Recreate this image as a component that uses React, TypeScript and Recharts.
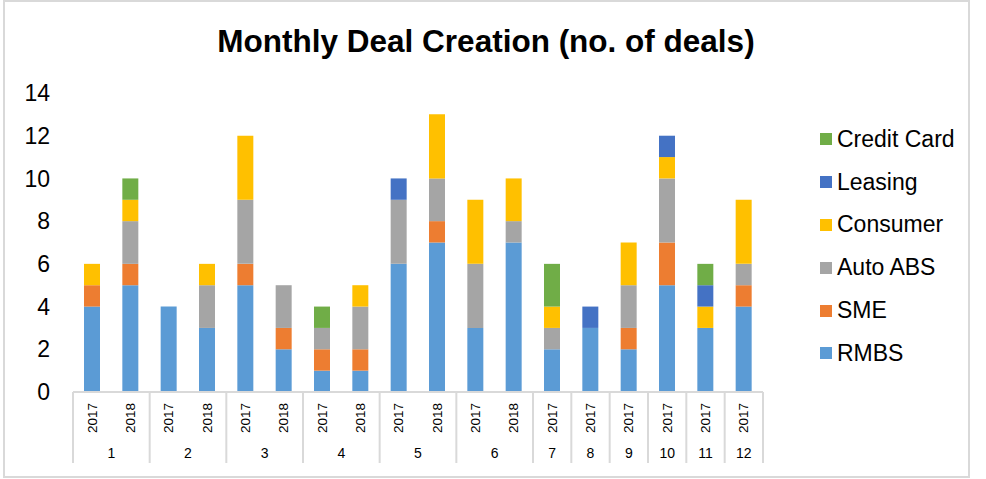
import React from 'react';
import { BarChart, Bar, XAxis, YAxis, Legend } from 'recharts';

const months = ['1', '1', '2', '2', '3', '3', '4', '4', '5', '5', '6', '6', '7', '8', '9', '10', '11', '12'];
const years = ['2017', '2018', '2017', '2018', '2017', '2018', '2017', '2018', '2017', '2018', '2017', '2018', '2017', '2017', '2017', '2017', '2017', '2017'];
const rmbs = [4, 5, 4, 3, 5, 2, 1, 1, 6, 7, 3, 7, 2, 3, 2, 5, 3, 4];
const sme = [1, 1, 0, 0, 1, 1, 1, 1, 0, 1, 0, 0, 0, 0, 1, 2, 0, 1];
const autoAbs = [0, 2, 0, 2, 3, 2, 1, 2, 3, 2, 3, 1, 1, 0, 2, 3, 0, 1];
const consumer = [1, 1, 0, 1, 3, 0, 0, 1, 0, 3, 3, 2, 1, 0, 2, 1, 1, 3];
const leasing = [0, 0, 0, 0, 0, 0, 0, 0, 1, 0, 0, 0, 0, 1, 0, 1, 1, 0];
const creditCard = [0, 1, 0, 0, 0, 0, 1, 0, 0, 0, 0, 0, 2, 0, 0, 0, 1, 0];
const yTicks = [0, 2, 4, 6, 8, 10, 12, 14];

const data = months.map((m, i) => ({
  key: `${m}-${i}`,
  month: m,
  year: years[i],
  RMBS: rmbs[i],
  SME: sme[i],
  'Auto ABS': autoAbs[i],
  Consumer: consumer[i],
  Leasing: leasing[i],
  'Credit Card': creditCard[i],
}));

const series = [
  { key: 'RMBS', color: '#5B9BD5' },
  { key: 'SME', color: '#ED7D31' },
  { key: 'Auto ABS', color: '#A5A5A5' },
  { key: 'Consumer', color: '#FFC000' },
  { key: 'Leasing', color: '#4472C4' },
  { key: 'Credit Card', color: '#70AD47' },
];

const W = 986;
const H = 479;
const M = { top: 93, right: 223, bottom: 0, left: 0 };
const Y_W = 73;
const X_H = 87;
const PLOT_W = W - M.left - M.right - Y_W;
const FONT = '"Liberation Sans", Arial, sans-serif';
const GRID = '#d9d9d9';

const XTick = (props: any) => {
  const { x, y, payload } = props;
  const i = payload.index;
  const bw = PLOT_W / data.length;
  const m = months[i];
  const first = i === 0 || months[i - 1] !== m;
  const last = i === data.length - 1;
  let groupSize = 0;
  if (first) {
    let j = i;
    while (j < months.length && months[j] === m) { groupSize++; j++; }
  }
  const left = x - bw / 2;
  return (
    <g>
      <text
        x={0}
        y={0}
        transform={`translate(${x},${y + 26}) rotate(-90)`}
        textAnchor="middle"
        dominantBaseline="central"
        fontSize={13.5}
        fontFamily={FONT}
        fill="#000"
      >
        {years[i]}
      </text>
      {first && (
        <>
          <line x1={left} y1={y} x2={left} y2={y + 71} stroke={GRID} strokeWidth={2} />
          <text
            x={left + (groupSize * bw) / 2}
            y={y + 61}
            textAnchor="middle"
            dominantBaseline="central"
            fontSize={14}
            fontFamily={FONT}
            fill="#000"
          >
            {m}
          </text>
        </>
      )}
      {last && <line x1={x + bw / 2} y1={y} x2={x + bw / 2} y2={y + 71} stroke={GRID} strokeWidth={2} />}
    </g>
  );
};

const LegendContent = (props: any) => {
  const payload = props.payload || [];
  const items = [...series]
    .reverse()
    .map((s) => payload.find((p: any) => p.value === s.key || p.dataKey === s.key))
    .filter(Boolean);
  return (
    <div style={{ fontFamily: FONT, fontSize: 23, color: '#000' }}>
      {items.map((it: any) => (
        <div key={it.value} style={{ display: 'flex', alignItems: 'center', height: 42.8 }}>
          <span style={{ display: 'inline-block', width: 12, height: 12, background: it.color, marginRight: 5 }} />
          <span>{it.value}</span>
        </div>
      ))}
    </div>
  );
};

export default function App() {
  return (
    <div style={{ position: 'absolute', left: 0, top: 0, width: W, height: H, background: '#fff' }}>
      <div
        style={{
          position: 'absolute',
          left: 3,
          top: 0,
          width: 967,
          height: 478,
          border: `2px solid ${GRID}`,
          boxSizing: 'border-box',
        }}
      />
      <div
        style={{
          position: 'absolute',
          left: 0,
          width: 972,
          top: 25,
          textAlign: 'center',
          fontFamily: FONT,
          fontWeight: 'bold',
          fontSize: 31.5,
          lineHeight: '32px',
          color: '#000',
        }}
      >
        Monthly Deal Creation (no. of deals)
      </div>
      <BarChart width={W} height={H} data={data} margin={M} barSize={16}>
        <XAxis
          dataKey="key"
          interval={0}
          height={X_H}
          tickSize={0}
          tickMargin={0}
          tickLine={false}
          axisLine={{ stroke: GRID, strokeWidth: 2 }}
          tick={<XTick />}
        />
        <YAxis
          width={Y_W}
          domain={[0, 14]}
          ticks={yTicks}
          interval={0}
          axisLine={false}
          tickLine={false}
          tickSize={0}
          tickMargin={23}
          tick={{ fontSize: 23, fontFamily: FONT, fill: '#000' }}
        />
        <Legend
          layout="horizontal"
          verticalAlign="middle"
          align="center"
          content={<LegendContent />}
          wrapperStyle={{ position: 'absolute', left: 820, top: 118, width: 160 }}
        />
        {series.map((s) => (
          <Bar key={s.key} dataKey={s.key} stackId="a" fill={s.color} isAnimationActive={false} />
        ))}
      </BarChart>
    </div>
  );
}
